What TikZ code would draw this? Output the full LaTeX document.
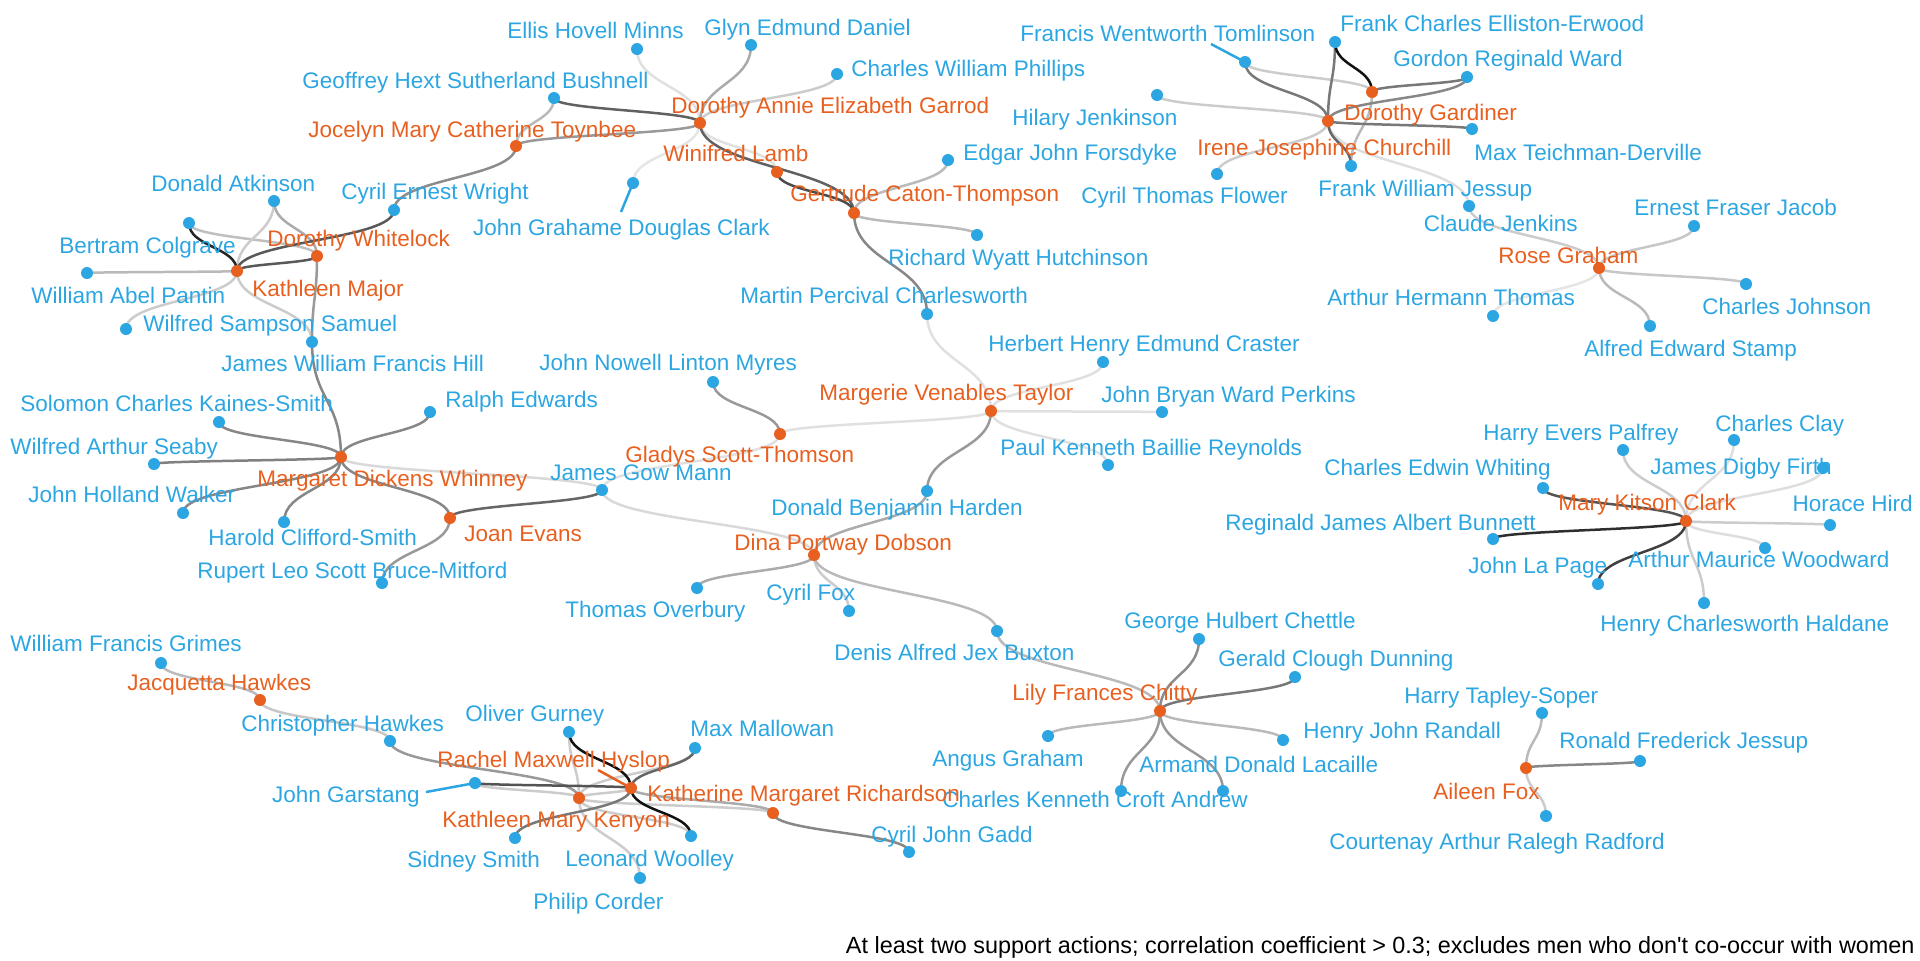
\documentclass[tikz,border=0pt]{standalone}
\usepackage{fontspec}
\setmainfont{Liberation Sans}
\newfontfamily\plainfont{Liberation Sans}
\usetikzlibrary{calc,backgrounds}
\definecolor{wcol}{RGB}{232,96,32}
\definecolor{mcol}{RGB}{44,166,226}
\newcommand\edgeS[3]{%
  \path ($(#1.center)!0.5!(#2.center)$) coordinate (mid);
  \draw[edge,black!#3] (#1.center) .. controls (#1.center |- mid) and (#2.center |- mid) .. (#2.center);}
\begin{document}
\begin{tikzpicture}[x=0.5pt,y=-0.5pt,
  dot/.style={circle,inner sep=0pt,minimum size=6pt},
  man/.style={dot,fill=mcol},
  wom/.style={dot,fill=wcol},
  lab/.style={inner sep=0pt,font=\plainfont\fontsize{11.25pt}{13pt}\selectfont},
  ml/.style={lab,text=mcol,anchor=base west},
  wl/.style={lab,text=wcol,anchor=base west},
  edge/.style={line width=1.25pt},
  leader/.style={line width=1.25pt}]
\useasboundingbox (0,0) rectangle (1920,960);
% ---------- dots ----------
\node[man] (GHSB) at (554,98) {};
\node[man] (EHM) at (637,49) {};
\node[man] (GED) at (751,45) {};
\node[man] (CWP) at (837,74) {};
\node[wom] (DAEG) at (700,123) {};
\node[wom] (JMCT) at (516,146) {};
\node[wom] (WL) at (777,172) {};
\node[wom] (GCT) at (854,213) {};
\node[man] (EJF) at (948,160) {};
\node[man] (JGDC) at (633,183) {};
\node[man] (RWH) at (977,235) {};
\node[man] (MPC) at (927,314) {};
\node[man] (DA) at (274,201) {};
\node[man] (CEW) at (394,210) {};
\node[man] (BC) at (189,223) {};
\node[man] (WAP) at (87,273) {};
\node[wom] (KM) at (237,271) {};
\node[wom] (DW) at (317,256) {};
\node[man] (WSS) at (126,329) {};
\node[man] (JWFH) at (312,342) {};
\node[man] (SCKS) at (219,422) {};
\node[man] (RE) at (430,412) {};
\node[man] (WAS) at (154,464) {};
\node[wom] (MDW) at (341,457) {};
\node[man] (JHW) at (183,513) {};
\node[man] (HCS) at (284,522) {};
\node[wom] (JE) at (450,518) {};
\node[man] (RLSBM) at (382,583) {};
\node[man] (JGM) at (602,490) {};
\node[wom] (GST) at (780,434) {};
\node[man] (JNLM) at (713,382) {};
\node[wom] (MVT) at (991,411) {};
\node[man] (HHEC) at (1103,362) {};
\node[man] (JBWP) at (1162,412) {};
\node[man] (PKBR) at (1108,465) {};
\node[man] (DBH) at (927,491) {};
\node[wom] (DPD) at (814,555) {};
\node[man] (TO) at (697,588) {};
\node[man] (CF) at (849,611) {};
\node[man] (DAJB) at (997,631) {};
\node[man] (GHC) at (1199,639) {};
\node[man] (GCD) at (1295,677) {};
\node[wom] (LFC) at (1160,711) {};
\node[man] (AG) at (1048,736) {};
\node[man] (HJR) at (1283,740) {};
\node[man] (ADL) at (1223,791) {};
\node[man] (CKCA) at (1121,791) {};
\node[man] (HTS) at (1542,713) {};
\node[man] (RFJ) at (1640,761) {};
\node[wom] (AF) at (1526,768) {};
\node[man] (CARR) at (1546,816) {};
\node[wom] (MKC) at (1686,521) {};
\node[man] (CEWh) at (1543,488) {};
\node[man] (HEP) at (1623,450) {};
\node[man] (CC) at (1734,440) {};
\node[man] (JDF) at (1823,468) {};
\node[man] (HH) at (1830,525) {};
\node[man] (RJAB) at (1493,539) {};
\node[man] (JLP) at (1598,584) {};
\node[man] (AMW) at (1765,548) {};
\node[man] (HCH) at (1704,603) {};
\node[wom] (RG) at (1599,268) {};
\node[man] (EFJ) at (1694,226) {};
\node[man] (CJ) at (1746,284) {};
\node[man] (AES) at (1650,326) {};
\node[man] (AHT) at (1493,316) {};
\node[man] (CJe) at (1469,206) {};
\node[man] (FWJ) at (1351,166) {};
\node[wom] (IJC) at (1328,121) {};
\node[wom] (DG) at (1372,92) {};
\node[man] (MTD) at (1472,129) {};
\node[man] (FCEE) at (1335,42) {};
\node[man] (GRW) at (1467,77) {};
\node[man] (FWT) at (1245,62) {};
\node[man] (HJ) at (1157,95) {};
\node[man] (CTF) at (1217,174) {};
\node[man] (WFG) at (161,663) {};
\node[wom] (JH) at (260,700) {};
\node[man] (CH) at (390,741) {};
\node[man] (OG) at (569,732) {};
\node[man] (MM) at (695,748) {};
\node[wom] (RMH) at (631,788) {};
\node[man] (JG) at (475,783) {};
\node[wom] (KMK) at (579,798) {};
\node[man] (SS) at (515,838) {};
\node[man] (LW) at (691,836) {};
\node[man] (PC) at (640,878) {};
\node[man] (CJG) at (909,852) {};
\node[wom] (KMR) at (773,813) {};
% ---------- edges ----------
\begin{pgfonlayer}{background}
% very light
\edgeS{DAEG}{EHM}{12}
\edgeS{DAEG}{WL}{12}
\edgeS{JGDC}{DAEG}{10}
\edgeS{MPC}{MVT}{12}
\edgeS{MVT}{HHEC}{12}
\edgeS{MVT}{JBWP}{12}
\edgeS{MVT}{PKBR}{12}
\edgeS{MVT}{GST}{12}
\edgeS{GST}{JGM}{12}
\edgeS{MDW}{JGM}{15}
\edgeS{DPD}{JGM}{15}
\edgeS{MKC}{CC}{13}
\edgeS{MKC}{JDF}{13}
\edgeS{MKC}{AMW}{13}
\edgeS{RG}{AHT}{10}
\edgeS{IJC}{CJe}{13}
% light
\edgeS{BC}{DW}{25}
\edgeS{DA}{KM}{20}
\edgeS{WAP}{KM}{27}
\edgeS{WSS}{KM}{20}
\edgeS{KM}{JWFH}{20}
\edgeS{DAEG}{CWP}{20}
\edgeS{GHSB}{JMCT}{27}
\edgeS{GCT}{EJF}{27}
\edgeS{GCT}{RWH}{27}
\edgeS{DPD}{CF}{20}
\edgeS{DPD}{DAJB}{27}
\edgeS{DAJB}{LFC}{27}
\edgeS{LFC}{AG}{27}
\edgeS{LFC}{HJR}{27}
\edgeS{AF}{HTS}{27}
\edgeS{AF}{CARR}{20}
\edgeS{MKC}{HEP}{20}
\edgeS{MKC}{HH}{20}
\edgeS{MKC}{HCH}{20}
\edgeS{RG}{CJe}{20}
\edgeS{RG}{EFJ}{22}
\edgeS{RG}{CJ}{22}
\edgeS{RG}{AES}{27}
\edgeS{FWT}{DG}{20}
\edgeS{DG}{FWJ}{27}
\edgeS{HJ}{IJC}{20}
\edgeS{CTF}{IJC}{20}
\edgeS{WFG}{JH}{27}
\edgeS{JH}{CH}{22}
\edgeS{OG}{KMK}{20}
\edgeS{MM}{KMK}{20}
\edgeS{JG}{KMK}{20}
\edgeS{KMK}{PC}{20}
\edgeS{KMK}{KMR}{20}
\edgeS{KMK}{RMH}{20}
\edgeS{KMK}{LW}{20}
% medium
\edgeS{DA}{DW}{33}
\edgeS{DW}{JWFH}{40}
\edgeS{CEW}{JMCT}{45}
\edgeS{JWFH}{MDW}{47}
\edgeS{MDW}{SCKS}{47}
\edgeS{MDW}{RE}{47}
\edgeS{MDW}{WAS}{50}
\edgeS{MDW}{JHW}{47}
\edgeS{MDW}{HCS}{47}
\edgeS{MDW}{JE}{47}
\edgeS{JE}{RLSBM}{40}
\edgeS{DAEG}{GED}{33}
\edgeS{DAEG}{JMCT}{40}
\edgeS{GCT}{MPC}{47}
\edgeS{MVT}{DBH}{40}
\edgeS{GST}{JNLM}{40}
\edgeS{DPD}{DBH}{33}
\edgeS{DPD}{TO}{33}
\edgeS{LFC}{GHC}{45}
\edgeS{LFC}{ADL}{40}
\edgeS{LFC}{CKCA}{40}
\edgeS{AF}{RFJ}{47}
\edgeS{GRW}{IJC}{47}
\edgeS{CH}{KMK}{40}
\edgeS{RMH}{KMR}{33}
\edgeS{KMR}{CJG}{47}
% dark
\edgeS{CEW}{KM}{65}
\edgeS{DW}{KM}{65}
\edgeS{JE}{JGM}{60}
\edgeS{DAEG}{GHSB}{62}
\edgeS{DAEG}{GCT}{62}
\edgeS{WL}{GCT}{70}
\edgeS{LFC}{GCD}{53}
\edgeS{MKC}{CEWh}{67}
\edgeS{FWT}{IJC}{53}
\edgeS{FCEE}{IJC}{53}
\edgeS{GRW}{DG}{53}
\edgeS{IJC}{MTD}{53}
\edgeS{IJC}{FWJ}{60}
\edgeS{MM}{RMH}{60}
\edgeS{JG}{RMH}{67}
\edgeS{SS}{RMH}{53}
% very dark
\edgeS{BC}{KM}{85}
\edgeS{MKC}{JLP}{75}
\edgeS{MKC}{RJAB}{82}
\edgeS{FCEE}{DG}{93}
\edgeS{OG}{RMH}{93}
\edgeS{RMH}{LW}{93}
% label leaders
\coordinate (jgdcL) at (621,212);
\draw[leader,mcol] (JGDC.center) -- (jgdcL);
\coordinate (fwtL) at (1211,44);
\draw[leader,mcol] (FWT.center) -- (fwtL);
\coordinate (jgL) at (426,792);
\draw[leader,mcol] (JG.center) -- (jgL);
\coordinate (rmhL) at (598,770);
\draw[leader,wcol] (RMH.center) -- (rmhL);
\end{pgfonlayer}
% ---------- labels ----------
\node[ml] (tGHSB) at (302,88) {Geoffrey Hext Sutherland Bushnell};
\node[ml] (tEHM) at (507,38) {Ellis Hovell Minns};
\node[ml] (tGED) at (704,35) {Glyn Edmund Daniel};
\node[ml] (tCWP) at (851,76) {Charles William Phillips};
\node[wl] (tDAEG) at (671,113) {Dorothy Annie Elizabeth Garrod};
\node[wl] (tJMCT) at (308,137) {Jocelyn Mary Catherine Toynbee};
\node[wl] (tWL) at (663,161) {Winifred Lamb};
\node[wl] (tGCT) at (790,201) {Gertrude Caton-Thompson};
\node[ml] (tEJF) at (963,160) {Edgar John Forsdyke};
\node[ml,anchor=base east] (tJGDC) at (770,235) {John Grahame Douglas Clark};
\node[ml] (tRWH) at (888,265) {Richard Wyatt Hutchinson};
\node[ml] (tMPC) at (740,303) {Martin Percival Charlesworth};
\node[ml] (tDA) at (151,191) {Donald Atkinson};
\node[ml] (tCEW) at (341,199) {Cyril Ernest Wright};
\node[ml] (tBC) at (59,253) {Bertram Colgrave};
\node[ml] (tWAP) at (31,303) {William Abel Pantin};
\node[wl] (tKM) at (252,296) {Kathleen Major};
\node[wl] (tDW) at (267,246) {Dorothy Whitelock};
\node[ml] (tWSS) at (143,331) {Wilfred Sampson Samuel};
\node[ml] (tJWFH) at (221,371) {James William Francis Hill};
\node[ml] (tSCKS) at (20,411) {Solomon Charles Kaines-Smith};
\node[ml] (tRE) at (445,407) {Ralph Edwards};
\node[ml] (tWAS) at (10,454) {Wilfred Arthur Seaby};
\node[wl] (tMDW) at (257,486) {Margaret Dickens Whinney};
\node[ml] (tJHW) at (28,502) {John Holland Walker};
\node[ml] (tHCS) at (208,545) {Harold Clifford-Smith};
\node[wl] (tJE) at (464,541) {Joan Evans};
\node[ml] (tRLSBM) at (197,578) {Rupert Leo Scott Bruce-Mitford};
\node[ml] (tJGM) at (550,480) {James Gow Mann};
\node[wl] (tGST) at (625,462) {Gladys Scott-Thomson};
\node[ml] (tJNLM) at (539,370) {John Nowell Linton Myres};
\node[wl] (tMVT) at (819,400) {Margerie Venables Taylor};
\node[ml] (tHHEC) at (988,351) {Herbert Henry Edmund Craster};
\node[ml,anchor=base east] (tJBWP) at (1356,402) {John Bryan Ward Perkins};
\node[ml] (tPKBR) at (1000,455) {Paul Kenneth Baillie Reynolds};
\node[ml] (tDBH) at (771,515) {Donald Benjamin Harden};
\node[wl] (tDPD) at (734,550) {Dina Portway Dobson};
\node[ml] (tTO) at (565,617) {Thomas Overbury};
\node[ml] (tCF) at (766,600) {Cyril Fox};
\node[ml] (tDAJB) at (834,660) {Denis Alfred Jex Buxton};
\node[ml] (tGHC) at (1124,628) {George Hulbert Chettle};
\node[ml] (tGCD) at (1218,666) {Gerald Clough Dunning};
\node[wl] (tLFC) at (1012,700) {Lily Frances Chitty};
\node[ml] (tAG) at (932,766) {Angus Graham};
\node[ml] (tHJR) at (1303,738) {Henry John Randall};
\node[ml] (tADL) at (1139,772) {Armand Donald Lacaille};
\node[ml] (tCKCA) at (942,807) {Charles Kenneth Croft Andrew};
\node[ml] (tHTS) at (1404,703) {Harry Tapley-Soper};
\node[ml] (tRFJ) at (1559,748) {Ronald Frederick Jessup};
\node[wl] (tAF) at (1433,799) {Aileen Fox};
\node[ml] (tCARR) at (1329,849) {Courtenay Arthur Ralegh Radford};
\node[wl] (tMKC) at (1558,510) {Mary Kitson Clark};
\node[ml] (tCEWh) at (1324,475) {Charles Edwin Whiting};
\node[ml] (tHEP) at (1483,440) {Harry Evers Palfrey};
\node[ml] (tCC) at (1715,431) {Charles Clay};
\node[ml] (tJDF) at (1650,474) {James Digby Firth};
\node[ml,anchor=base east] (tHH) at (1913,511) {Horace Hird};
\node[ml] (tRJAB) at (1225,530) {Reginald James Albert Bunnett};
\node[ml] (tJLP) at (1468,573) {John La Page};
\node[ml] (tAMW) at (1628,567) {Arthur Maurice Woodward};
\node[ml] (tHCH) at (1600,631) {Henry Charlesworth Haldane};
\node[wl] (tRG) at (1498,263) {Rose Graham};
\node[ml] (tEFJ) at (1634,215) {Ernest Fraser Jacob};
\node[ml] (tCJ) at (1702,314) {Charles Johnson};
\node[ml] (tAES) at (1584,356) {Alfred Edward Stamp};
\node[ml] (tAHT) at (1327,305) {Arthur Hermann Thomas};
\node[ml,anchor=base east] (tCJe) at (1578,231) {Claude Jenkins};
\node[ml] (tFWJ) at (1318,196) {Frank William Jessup};
\node[wl] (tIJC) at (1197,155) {Irene Josephine Churchill};
\node[wl] (tDG) at (1344,120) {Dorothy Gardiner};
\node[ml] (tMTD) at (1474,160) {Max Teichman-Derville};
\node[ml] (tFCEE) at (1340,31) {Frank Charles Elliston-Erwood};
\node[ml] (tGRW) at (1393,66) {Gordon Reginald Ward};
\node[ml] (tFWT) at (1020,41) {Francis Wentworth Tomlinson};
\node[ml] (tHJ) at (1012,125) {Hilary Jenkinson};
\node[ml] (tCTF) at (1081,203) {Cyril Thomas Flower};
\node[ml] (tWFG) at (10,651) {William Francis Grimes};
\node[wl] (tJH) at (127,690) {Jacquetta Hawkes};
\node[ml] (tCH) at (241,731) {Christopher Hawkes};
\node[ml] (tOG) at (465,721) {Oliver Gurney};
\node[ml] (tMM) at (690,736) {Max Mallowan};
\node[wl] (tRMH) at (437,767) {Rachel Maxwell Hyslop};
\node[ml,anchor=base east] (tJG) at (420,802) {John Garstang};
\node[wl] (tKMK) at (442,827) {Kathleen Mary Kenyon};
\node[ml] (tSS) at (407,867) {Sidney Smith};
\node[ml] (tLW) at (565,866) {Leonard Woolley};
\node[ml] (tPC) at (533,909) {Philip Corder};
\node[ml] (tCJG) at (871,842) {Cyril John Gadd};
\node[wl] (tKMR) at (647,801) {Katherine Margaret Richardson};
\node[lab,font=\plainfont\fontsize{11.7pt}{13pt}\selectfont,anchor=base east] (caption) at (1915,953) {At least two support actions; correlation coefficient > 0.3; excludes men who don't co-occur with women};
\end{tikzpicture}
\end{document}
